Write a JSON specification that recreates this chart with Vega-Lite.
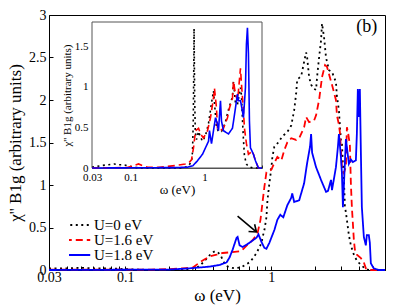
{
  "$schema": "https://vega.github.io/schema/vega-lite/v6.json",
  "width": 336,
  "height": 255,
  "padding": {"left": 49, "top": 15, "right": 14, "bottom": 38},
  "autosize": {"type": "none"},
  "background": "white",
  "config": {
    "view": {"stroke": "black", "strokeWidth": 1},
    "font": "Liberation Serif",
    "axis": {"grid": false, "domainColor": "black", "tickColor": "black", "labelColor": "black", "titleColor": "black", "labelFont": "Liberation Serif", "titleFont": "Liberation Serif", "titleFontWeight": "normal"},
    "legend": {"labelFont": "Liberation Serif", "labelColor": "black"}
  },
  "datasets": {
    "main": [
      {"series": "U=0 eV", "w": 0.03, "chi": 0.02},
      {"series": "U=0 eV", "w": 0.04, "chi": 0.02},
      {"series": "U=0 eV", "w": 0.05, "chi": 0.025},
      {"series": "U=0 eV", "w": 0.06, "chi": 0.02},
      {"series": "U=0 eV", "w": 0.07, "chi": 0.02},
      {"series": "U=0 eV", "w": 0.08, "chi": 0.015},
      {"series": "U=0 eV", "w": 0.09, "chi": 0.015},
      {"series": "U=0 eV", "w": 0.1, "chi": 0.01},
      {"series": "U=0 eV", "w": 0.12, "chi": 0.005},
      {"series": "U=0 eV", "w": 0.15, "chi": 0},
      {"series": "U=0 eV", "w": 0.25, "chi": 0},
      {"series": "U=0 eV", "w": 0.3, "chi": 0.02},
      {"series": "U=0 eV", "w": 0.324, "chi": 0.05},
      {"series": "U=0 eV", "w": 0.345, "chi": 0.1},
      {"series": "U=0 eV", "w": 0.367, "chi": 0.15},
      {"series": "U=0 eV", "w": 0.39, "chi": 0.2},
      {"series": "U=0 eV", "w": 0.41, "chi": 0.22},
      {"series": "U=0 eV", "w": 0.43, "chi": 0.21},
      {"series": "U=0 eV", "w": 0.45, "chi": 0.17},
      {"series": "U=0 eV", "w": 0.47, "chi": 0.1},
      {"series": "U=0 eV", "w": 0.49, "chi": 0.05},
      {"series": "U=0 eV", "w": 0.52, "chi": 0.03},
      {"series": "U=0 eV", "w": 0.56, "chi": 0.02},
      {"series": "U=0 eV", "w": 0.62, "chi": 0.03},
      {"series": "U=0 eV", "w": 0.708, "chi": 0.09},
      {"series": "U=0 eV", "w": 0.75, "chi": 0.14},
      {"series": "U=0 eV", "w": 0.791, "chi": 0.2},
      {"series": "U=0 eV", "w": 0.83, "chi": 0.27},
      {"series": "U=0 eV", "w": 0.855, "chi": 0.32},
      {"series": "U=0 eV", "w": 0.875, "chi": 0.4},
      {"series": "U=0 eV", "w": 0.896, "chi": 0.47},
      {"series": "U=0 eV", "w": 0.925, "chi": 0.62},
      {"series": "U=0 eV", "w": 0.94, "chi": 0.82},
      {"series": "U=0 eV", "w": 0.969, "chi": 1.02},
      {"series": "U=0 eV", "w": 1.0, "chi": 1.2},
      {"series": "U=0 eV", "w": 1.016, "chi": 1.33},
      {"series": "U=0 eV", "w": 1.048, "chi": 1.45},
      {"series": "U=0 eV", "w": 1.081, "chi": 1.47},
      {"series": "U=0 eV", "w": 1.133, "chi": 1.52},
      {"series": "U=0 eV", "w": 1.2, "chi": 1.58},
      {"series": "U=0 eV", "w": 1.265, "chi": 1.61},
      {"series": "U=0 eV", "w": 1.33, "chi": 1.66},
      {"series": "U=0 eV", "w": 1.368, "chi": 1.7},
      {"series": "U=0 eV", "w": 1.433, "chi": 1.88},
      {"series": "U=0 eV", "w": 1.479, "chi": 2.08},
      {"series": "U=0 eV", "w": 1.503, "chi": 2.24},
      {"series": "U=0 eV", "w": 1.55, "chi": 2.26},
      {"series": "U=0 eV", "w": 1.6, "chi": 2.28},
      {"series": "U=0 eV", "w": 1.676, "chi": 2.45},
      {"series": "U=0 eV", "w": 1.73, "chi": 2.56},
      {"series": "U=0 eV", "w": 1.758, "chi": 2.5},
      {"series": "U=0 eV", "w": 1.813, "chi": 2.27},
      {"series": "U=0 eV", "w": 1.871, "chi": 2.18},
      {"series": "U=0 eV", "w": 1.962, "chi": 2.13},
      {"series": "U=0 eV", "w": 2.023, "chi": 2.12},
      {"series": "U=0 eV", "w": 2.056, "chi": 2.27},
      {"series": "U=0 eV", "w": 2.122, "chi": 2.5},
      {"series": "U=0 eV", "w": 2.188, "chi": 2.7},
      {"series": "U=0 eV", "w": 2.223, "chi": 2.9},
      {"series": "U=0 eV", "w": 2.294, "chi": 2.74},
      {"series": "U=0 eV", "w": 2.367, "chi": 2.5},
      {"series": "U=0 eV", "w": 2.482, "chi": 2.35},
      {"series": "U=0 eV", "w": 2.601, "chi": 2.33},
      {"series": "U=0 eV", "w": 2.768, "chi": 2.21},
      {"series": "U=0 eV", "w": 2.812, "chi": 2.04},
      {"series": "U=0 eV", "w": 2.901, "chi": 1.88},
      {"series": "U=0 eV", "w": 2.95, "chi": 1.68},
      {"series": "U=0 eV", "w": 2.994, "chi": 1.53},
      {"series": "U=0 eV", "w": 3.04, "chi": 1.5},
      {"series": "U=0 eV", "w": 3.09, "chi": 1.24},
      {"series": "U=0 eV", "w": 3.139, "chi": 1.06},
      {"series": "U=0 eV", "w": 3.188, "chi": 0.76},
      {"series": "U=0 eV", "w": 3.29, "chi": 0.59},
      {"series": "U=0 eV", "w": 3.395, "chi": 0.41},
      {"series": "U=0 eV", "w": 3.503, "chi": 0.29},
      {"series": "U=0 eV", "w": 3.673, "chi": 0.18},
      {"series": "U=0 eV", "w": 3.85, "chi": 0.11},
      {"series": "U=0 eV", "w": 4.1, "chi": 0.06},
      {"series": "U=0 eV", "w": 4.366, "chi": 0.02},
      {"series": "U=0 eV", "w": 4.65, "chi": 0},
      {"series": "U=0 eV", "w": 6, "chi": 0},

      {"series": "U=1.6 eV", "w": 0.03, "chi": 0.005},
      {"series": "U=1.6 eV", "w": 0.1, "chi": 0.005},
      {"series": "U=1.6 eV", "w": 0.15, "chi": 0.005},
      {"series": "U=1.6 eV", "w": 0.2, "chi": 0.01},
      {"series": "U=1.6 eV", "w": 0.25, "chi": 0.02},
      {"series": "U=1.6 eV", "w": 0.29, "chi": 0.03},
      {"series": "U=1.6 eV", "w": 0.324, "chi": 0.09},
      {"series": "U=1.6 eV", "w": 0.345, "chi": 0.12},
      {"series": "U=1.6 eV", "w": 0.379, "chi": 0.16},
      {"series": "U=1.6 eV", "w": 0.422, "chi": 0.18},
      {"series": "U=1.6 eV", "w": 0.464, "chi": 0.2},
      {"series": "U=1.6 eV", "w": 0.535, "chi": 0.21},
      {"series": "U=1.6 eV", "w": 0.606, "chi": 0.22},
      {"series": "U=1.6 eV", "w": 0.635, "chi": 0.24},
      {"series": "U=1.6 eV", "w": 0.687, "chi": 0.3},
      {"series": "U=1.6 eV", "w": 0.743, "chi": 0.35},
      {"series": "U=1.6 eV", "w": 0.803, "chi": 0.43},
      {"series": "U=1.6 eV", "w": 0.842, "chi": 0.59},
      {"series": "U=1.6 eV", "w": 0.869, "chi": 0.79},
      {"series": "U=1.6 eV", "w": 0.896, "chi": 0.98},
      {"series": "U=1.6 eV", "w": 0.925, "chi": 1.15},
      {"series": "U=1.6 eV", "w": 1.0, "chi": 1.18},
      {"series": "U=1.6 eV", "w": 1.048, "chi": 1.26},
      {"series": "U=1.6 eV", "w": 1.099, "chi": 1.33},
      {"series": "U=1.6 eV", "w": 1.17, "chi": 1.29},
      {"series": "U=1.6 eV", "w": 1.226, "chi": 1.41},
      {"series": "U=1.6 eV", "w": 1.285, "chi": 1.5},
      {"series": "U=1.6 eV", "w": 1.368, "chi": 1.55},
      {"series": "U=1.6 eV", "w": 1.479, "chi": 1.53},
      {"series": "U=1.6 eV", "w": 1.55, "chi": 1.55},
      {"series": "U=1.6 eV", "w": 1.676, "chi": 1.68},
      {"series": "U=1.6 eV", "w": 1.73, "chi": 1.8},
      {"series": "U=1.6 eV", "w": 1.813, "chi": 1.74},
      {"series": "U=1.6 eV", "w": 1.962, "chi": 1.76},
      {"series": "U=1.6 eV", "w": 2.023, "chi": 1.82},
      {"series": "U=1.6 eV", "w": 2.122, "chi": 2.0},
      {"series": "U=1.6 eV", "w": 2.223, "chi": 2.27},
      {"series": "U=1.6 eV", "w": 2.33, "chi": 2.41},
      {"series": "U=1.6 eV", "w": 2.404, "chi": 2.39},
      {"series": "U=1.6 eV", "w": 2.56, "chi": 2.22},
      {"series": "U=1.6 eV", "w": 2.601, "chi": 2.18},
      {"series": "U=1.6 eV", "w": 2.768, "chi": 2.0},
      {"series": "U=1.6 eV", "w": 2.812, "chi": 1.82},
      {"series": "U=1.6 eV", "w": 2.901, "chi": 1.71},
      {"series": "U=1.6 eV", "w": 2.947, "chi": 1.62},
      {"series": "U=1.6 eV", "w": 3.041, "chi": 1.21},
      {"series": "U=1.6 eV", "w": 3.139, "chi": 1.14},
      {"series": "U=1.6 eV", "w": 3.239, "chi": 1.22},
      {"series": "U=1.6 eV", "w": 3.29, "chi": 1.68},
      {"series": "U=1.6 eV", "w": 3.35, "chi": 1.62},
      {"series": "U=1.6 eV", "w": 3.449, "chi": 1.47},
      {"series": "U=1.6 eV", "w": 3.503, "chi": 1.02},
      {"series": "U=1.6 eV", "w": 3.559, "chi": 0.74},
      {"series": "U=1.6 eV", "w": 3.615, "chi": 0.55},
      {"series": "U=1.6 eV", "w": 3.673, "chi": 0.35},
      {"series": "U=1.6 eV", "w": 3.731, "chi": 0.24},
      {"series": "U=1.6 eV", "w": 3.85, "chi": 0.18},
      {"series": "U=1.6 eV", "w": 4.1, "chi": 0.14},
      {"series": "U=1.6 eV", "w": 4.298, "chi": 0.09},
      {"series": "U=1.6 eV", "w": 4.436, "chi": 0.02},
      {"series": "U=1.6 eV", "w": 4.65, "chi": 0},
      {"series": "U=1.6 eV", "w": 6, "chi": 0},

      {"series": "U=1.8 eV", "w": 0.03, "chi": 0},
      {"series": "U=1.8 eV", "w": 0.2, "chi": 0.005},
      {"series": "U=1.8 eV", "w": 0.277, "chi": 0.02},
      {"series": "U=1.8 eV", "w": 0.379, "chi": 0.04},
      {"series": "U=1.8 eV", "w": 0.443, "chi": 0.06},
      {"series": "U=1.8 eV", "w": 0.494, "chi": 0.09},
      {"series": "U=1.8 eV", "w": 0.518, "chi": 0.15},
      {"series": "U=1.8 eV", "w": 0.543, "chi": 0.24},
      {"series": "U=1.8 eV", "w": 0.578, "chi": 0.38},
      {"series": "U=1.8 eV", "w": 0.587, "chi": 0.39},
      {"series": "U=1.8 eV", "w": 0.606, "chi": 0.29},
      {"series": "U=1.8 eV", "w": 0.635, "chi": 0.27},
      {"series": "U=1.8 eV", "w": 0.708, "chi": 0.32},
      {"series": "U=1.8 eV", "w": 0.791, "chi": 0.38},
      {"series": "U=1.8 eV", "w": 0.816, "chi": 0.42},
      {"series": "U=1.8 eV", "w": 0.855, "chi": 0.33},
      {"series": "U=1.8 eV", "w": 0.896, "chi": 0.26},
      {"series": "U=1.8 eV", "w": 0.925, "chi": 0.25},
      {"series": "U=1.8 eV", "w": 0.969, "chi": 0.32},
      {"series": "U=1.8 eV", "w": 1.048, "chi": 0.47},
      {"series": "U=1.8 eV", "w": 1.099, "chi": 0.59},
      {"series": "U=1.8 eV", "w": 1.151, "chi": 0.65},
      {"series": "U=1.8 eV", "w": 1.207, "chi": 0.62},
      {"series": "U=1.8 eV", "w": 1.285, "chi": 0.76},
      {"series": "U=1.8 eV", "w": 1.368, "chi": 0.85},
      {"series": "U=1.8 eV", "w": 1.39, "chi": 0.9},
      {"series": "U=1.8 eV", "w": 1.433, "chi": 0.8},
      {"series": "U=1.8 eV", "w": 1.55, "chi": 0.82},
      {"series": "U=1.8 eV", "w": 1.676, "chi": 1.02},
      {"series": "U=1.8 eV", "w": 1.758, "chi": 1.26},
      {"series": "U=1.8 eV", "w": 1.84, "chi": 1.45},
      {"series": "U=1.8 eV", "w": 1.871, "chi": 1.6},
      {"series": "U=1.8 eV", "w": 1.901, "chi": 1.38},
      {"series": "U=1.8 eV", "w": 2.023, "chi": 1.21},
      {"series": "U=1.8 eV", "w": 2.188, "chi": 1.06},
      {"series": "U=1.8 eV", "w": 2.367, "chi": 0.92},
      {"series": "U=1.8 eV", "w": 2.443, "chi": 0.93},
      {"series": "U=1.8 eV", "w": 2.56, "chi": 1.06},
      {"series": "U=1.8 eV", "w": 2.601, "chi": 0.94},
      {"series": "U=1.8 eV", "w": 2.768, "chi": 1.21},
      {"series": "U=1.8 eV", "w": 2.856, "chi": 1.45},
      {"series": "U=1.8 eV", "w": 2.901, "chi": 1.6},
      {"series": "U=1.8 eV", "w": 2.994, "chi": 1.33},
      {"series": "U=1.8 eV", "w": 3.041, "chi": 1.14},
      {"series": "U=1.8 eV", "w": 3.09, "chi": 0.74},
      {"series": "U=1.8 eV", "w": 3.139, "chi": 1.0},
      {"series": "U=1.8 eV", "w": 3.239, "chi": 1.54},
      {"series": "U=1.8 eV", "w": 3.395, "chi": 1.25},
      {"series": "U=1.8 eV", "w": 3.503, "chi": 1.3},
      {"series": "U=1.8 eV", "w": 3.615, "chi": 1.27},
      {"series": "U=1.8 eV", "w": 3.79, "chi": 1.29},
      {"series": "U=1.8 eV", "w": 3.85, "chi": 1.6},
      {"series": "U=1.8 eV", "w": 3.911, "chi": 2.13},
      {"series": "U=1.8 eV", "w": 3.97, "chi": 1.8},
      {"series": "U=1.8 eV", "w": 4.036, "chi": 2.13},
      {"series": "U=1.8 eV", "w": 4.1, "chi": 1.4},
      {"series": "U=1.8 eV", "w": 4.165, "chi": 0.74},
      {"series": "U=1.8 eV", "w": 4.298, "chi": 0.39},
      {"series": "U=1.8 eV", "w": 4.436, "chi": 0.29},
      {"series": "U=1.8 eV", "w": 4.506, "chi": 0.41},
      {"series": "U=1.8 eV", "w": 4.65, "chi": 0.41},
      {"series": "U=1.8 eV", "w": 4.724, "chi": 0.32},
      {"series": "U=1.8 eV", "w": 4.799, "chi": 0.08},
      {"series": "U=1.8 eV", "w": 5.02, "chi": 0.02},
      {"series": "U=1.8 eV", "w": 5.43, "chi": 0},
      {"series": "U=1.8 eV", "w": 6, "chi": 0}
    ],
    "inset": [
      {"series": "U=0 eV", "w": 0.03, "chi": 0.01},
      {"series": "U=0 eV", "w": 0.035, "chi": 0.02},
      {"series": "U=0 eV", "w": 0.04, "chi": 0.03},
      {"series": "U=0 eV", "w": 0.05, "chi": 0.04},
      {"series": "U=0 eV", "w": 0.06, "chi": 0.05},
      {"series": "U=0 eV", "w": 0.07, "chi": 0.04},
      {"series": "U=0 eV", "w": 0.08, "chi": 0.04},
      {"series": "U=0 eV", "w": 0.09, "chi": 0.03},
      {"series": "U=0 eV", "w": 0.1, "chi": 0.02},
      {"series": "U=0 eV", "w": 0.12, "chi": 0.005},
      {"series": "U=0 eV", "w": 0.15, "chi": 0},
      {"series": "U=0 eV", "w": 0.5, "chi": 0},
      {"series": "U=0 eV", "w": 0.6, "chi": 0.02},
      {"series": "U=0 eV", "w": 0.667, "chi": 0.08},
      {"series": "U=0 eV", "w": 0.688, "chi": 0.2},
      {"series": "U=0 eV", "w": 0.705, "chi": 0.6},
      {"series": "U=0 eV", "w": 0.715, "chi": 1.2},
      {"series": "U=0 eV", "w": 0.722, "chi": 1.72},
      {"series": "U=0 eV", "w": 0.735, "chi": 0.9},
      {"series": "U=0 eV", "w": 0.75, "chi": 0.45},
      {"series": "U=0 eV", "w": 0.78, "chi": 0.35},
      {"series": "U=0 eV", "w": 0.83, "chi": 0.45},
      {"series": "U=0 eV", "w": 0.883, "chi": 0.38},
      {"series": "U=0 eV", "w": 0.94, "chi": 0.33},
      {"series": "U=0 eV", "w": 1.032, "chi": 0.4},
      {"series": "U=0 eV", "w": 1.133, "chi": 0.55},
      {"series": "U=0 eV", "w": 1.243, "chi": 0.8},
      {"series": "U=0 eV", "w": 1.323, "chi": 0.95},
      {"series": "U=0 eV", "w": 1.365, "chi": 0.8},
      {"series": "U=0 eV", "w": 1.453, "chi": 0.5},
      {"series": "U=0 eV", "w": 1.546, "chi": 0.45},
      {"series": "U=0 eV", "w": 1.697, "chi": 0.45},
      {"series": "U=0 eV", "w": 1.9, "chi": 0.55},
      {"series": "U=0 eV", "w": 2.11, "chi": 0.72},
      {"series": "U=0 eV", "w": 2.39, "chi": 0.88},
      {"series": "U=0 eV", "w": 2.466, "chi": 1.07},
      {"series": "U=0 eV", "w": 2.624, "chi": 0.8},
      {"series": "U=0 eV", "w": 2.793, "chi": 0.78},
      {"series": "U=0 eV", "w": 3.066, "chi": 0.99},
      {"series": "U=0 eV", "w": 3.163, "chi": 0.9},
      {"series": "U=0 eV", "w": 3.263, "chi": 0.6},
      {"series": "U=0 eV", "w": 3.366, "chi": 0.35},
      {"series": "U=0 eV", "w": 3.472, "chi": 0.15},
      {"series": "U=0 eV", "w": 3.695, "chi": 0.05},
      {"series": "U=0 eV", "w": 3.932, "chi": 0.02},
      {"series": "U=0 eV", "w": 4.5, "chi": 0},
      {"series": "U=0 eV", "w": 6, "chi": 0},

      {"series": "U=1.6 eV", "w": 0.03, "chi": 0},
      {"series": "U=1.6 eV", "w": 0.09, "chi": 0.005},
      {"series": "U=1.6 eV", "w": 0.11, "chi": 0.03},
      {"series": "U=1.6 eV", "w": 0.128, "chi": 0.05},
      {"series": "U=1.6 eV", "w": 0.145, "chi": 0.03},
      {"series": "U=1.6 eV", "w": 0.17, "chi": 0.01},
      {"series": "U=1.6 eV", "w": 0.25, "chi": 0.01},
      {"series": "U=1.6 eV", "w": 0.316, "chi": 0.02},
      {"series": "U=1.6 eV", "w": 0.4, "chi": 0.03},
      {"series": "U=1.6 eV", "w": 0.474, "chi": 0.04},
      {"series": "U=1.6 eV", "w": 0.55, "chi": 0.05},
      {"series": "U=1.6 eV", "w": 0.608, "chi": 0.06},
      {"series": "U=1.6 eV", "w": 0.667, "chi": 0.1},
      {"series": "U=1.6 eV", "w": 0.71, "chi": 0.25},
      {"series": "U=1.6 eV", "w": 0.756, "chi": 0.46},
      {"series": "U=1.6 eV", "w": 0.83, "chi": 0.49},
      {"series": "U=1.6 eV", "w": 0.883, "chi": 0.42},
      {"series": "U=1.6 eV", "w": 0.969, "chi": 0.37},
      {"series": "U=1.6 eV", "w": 1.098, "chi": 0.46},
      {"series": "U=1.6 eV", "w": 1.205, "chi": 0.62},
      {"series": "U=1.6 eV", "w": 1.323, "chi": 0.86},
      {"series": "U=1.6 eV", "w": 1.365, "chi": 0.98},
      {"series": "U=1.6 eV", "w": 1.453, "chi": 0.74},
      {"series": "U=1.6 eV", "w": 1.498, "chi": 0.49},
      {"series": "U=1.6 eV", "w": 1.645, "chi": 0.46},
      {"series": "U=1.6 eV", "w": 1.806, "chi": 0.49},
      {"series": "U=1.6 eV", "w": 2.046, "chi": 0.62},
      {"series": "U=1.6 eV", "w": 2.177, "chi": 0.74},
      {"series": "U=1.6 eV", "w": 2.39, "chi": 0.86},
      {"series": "U=1.6 eV", "w": 2.466, "chi": 1.07},
      {"series": "U=1.6 eV", "w": 2.624, "chi": 0.91},
      {"series": "U=1.6 eV", "w": 2.793, "chi": 0.83},
      {"series": "U=1.6 eV", "w": 2.881, "chi": 0.95},
      {"series": "U=1.6 eV", "w": 3.066, "chi": 1.23},
      {"series": "U=1.6 eV", "w": 3.163, "chi": 1.04},
      {"series": "U=1.6 eV", "w": 3.366, "chi": 0.7},
      {"series": "U=1.6 eV", "w": 3.472, "chi": 0.49},
      {"series": "U=1.6 eV", "w": 3.695, "chi": 0.3},
      {"series": "U=1.6 eV", "w": 3.932, "chi": 0.17},
      {"series": "U=1.6 eV", "w": 4.45, "chi": 0.21},
      {"series": "U=1.6 eV", "w": 4.89, "chi": 0.09},
      {"series": "U=1.6 eV", "w": 5.37, "chi": 0},
      {"series": "U=1.6 eV", "w": 6, "chi": 0},

      {"series": "U=1.8 eV", "w": 0.03, "chi": 0},
      {"series": "U=1.8 eV", "w": 0.4, "chi": 0.005},
      {"series": "U=1.8 eV", "w": 0.589, "chi": 0.01},
      {"series": "U=1.8 eV", "w": 0.7, "chi": 0.03},
      {"series": "U=1.8 eV", "w": 0.804, "chi": 0.09},
      {"series": "U=1.8 eV", "w": 0.94, "chi": 0.17},
      {"series": "U=1.8 eV", "w": 1.032, "chi": 0.25},
      {"series": "U=1.8 eV", "w": 1.133, "chi": 0.33},
      {"series": "U=1.8 eV", "w": 1.168, "chi": 0.46},
      {"series": "U=1.8 eV", "w": 1.243, "chi": 0.3},
      {"series": "U=1.8 eV", "w": 1.323, "chi": 0.46},
      {"series": "U=1.8 eV", "w": 1.408, "chi": 0.62},
      {"series": "U=1.8 eV", "w": 1.498, "chi": 0.54},
      {"series": "U=1.8 eV", "w": 1.546, "chi": 0.46},
      {"series": "U=1.8 eV", "w": 1.645, "chi": 0.83},
      {"series": "U=1.8 eV", "w": 1.697, "chi": 0.58},
      {"series": "U=1.8 eV", "w": 1.806, "chi": 0.46},
      {"series": "U=1.8 eV", "w": 2.11, "chi": 0.42},
      {"series": "U=1.8 eV", "w": 2.39, "chi": 0.49},
      {"series": "U=1.8 eV", "w": 2.624, "chi": 0.74},
      {"series": "U=1.8 eV", "w": 2.793, "chi": 0.91},
      {"series": "U=1.8 eV", "w": 2.881, "chi": 0.83},
      {"series": "U=1.8 eV", "w": 3.066, "chi": 0.83},
      {"series": "U=1.8 eV", "w": 3.263, "chi": 0.7},
      {"series": "U=1.8 eV", "w": 3.366, "chi": 0.62},
      {"series": "U=1.8 eV", "w": 3.582, "chi": 0.99},
      {"series": "U=1.8 eV", "w": 3.695, "chi": 1.53},
      {"series": "U=1.8 eV", "w": 3.811, "chi": 1.73},
      {"series": "U=1.8 eV", "w": 3.932, "chi": 1.41},
      {"series": "U=1.8 eV", "w": 4.056, "chi": 0.58},
      {"series": "U=1.8 eV", "w": 4.184, "chi": 0.25},
      {"series": "U=1.8 eV", "w": 4.59, "chi": 0.17},
      {"series": "U=1.8 eV", "w": 4.89, "chi": 0.09},
      {"series": "U=1.8 eV", "w": 5.37, "chi": 0},
      {"series": "U=1.8 eV", "w": 6, "chi": 0}
    ]
  },
  "resolve": {"scale": {"x": "independent", "y": "independent"}, "axis": {"x": "independent", "y": "independent"}},
  "layer": [
    {
      "layer": [
        {
          "data": {"name": "main"},
          "mark": {"type": "line", "strokeWidth": 1.8},
          "encoding": {
            "x": {"field": "w", "type": "quantitative",
              "scale": {"type": "log", "domain": [0.03, 6], "nice": false},
              "axis": {"orient": "bottom", "title": "ω (eV)", "titleFontSize": 17, "titlePadding": 3,
                "values": [0.03,0.04,0.05,0.06,0.07,0.08,0.09,0.1,0.2,0.3,0.4,0.5,0.6,0.7,0.8,0.9,1,2,3,4,5,6],
                "labelExpr": "(datum.value == 0.03 || datum.value == 0.1 || datum.value == 1) ? format(datum.value, '~g') : ''",
                "labelFlush": false, "labelFontSize": 14, "tickSize": -4, "labelPadding": 4}},
            "y": {"field": "chi", "type": "quantitative",
              "scale": {"domain": [0, 3], "nice": false},
              "axis": {"orient": "left", "title": "χ''  B1g  (arbitrary units)", "titleFontSize": 17, "titlePadding": 4,
                "values": [0, 0.5, 1, 1.5, 2, 2.5, 3], "format": "~g", "labelFontSize": 14, "tickSize": -4, "labelPadding": 7}},
            "color": {"field": "series", "type": "nominal",
              "scale": {"domain": ["U=0 eV", "U=1.6 eV", "U=1.8 eV"], "range": ["#000000", "#ff0000", "#0000ff"]},
              "legend": {"orient": "none", "legendX": 20, "legendY": 204, "padding": 0, "title": null, "symbolType": "M -1.8 0 L 1.8 0", "symbolSize": 200, "symbolStrokeWidth": 2, "labelFontSize": 15, "labelOffset": 8, "rowPadding": 0, "clipHeight": 12}},
            "strokeDash": {"field": "series", "type": "nominal",
              "scale": {"domain": ["U=0 eV", "U=1.6 eV", "U=1.8 eV"], "range": [[2, 3.5], [7, 4], [1, 0]]},
              "legend": {"orient": "none", "legendX": 20, "legendY": 204, "padding": 0, "title": null, "symbolType": "M -1.8 0 L 1.8 0", "symbolSize": 200, "symbolStrokeWidth": 2, "labelFontSize": 15, "labelOffset": 8, "rowPadding": 0, "clipHeight": 12}}
          }
        },
        {
          "data": {"values": [{"a": 1}]},
          "mark": {"type": "rule", "strokeWidth": 1.6, "color": "black"},
          "encoding": {"x": {"datum": 0.587}, "y": {"datum": 0.635}, "x2": {"datum": 0.785}, "y2": {"datum": 0.452}}
        },
        {
          "data": {"values": [{"a": 1}]},
          "mark": {"type": "point", "shape": "M -1 -0.75 L 0 0 L -1 0.75", "filled": false, "strokeWidth": 1.6, "color": "black", "size": 160, "angle": 40, "opacity": 1},
          "encoding": {"x": {"datum": 0.79}, "y": {"datum": 0.447}}
        },
        {
          "data": {"values": [{"a": 1}]},
          "mark": {"type": "text", "font": "Liberation Serif", "fontSize": 18, "color": "black"},
          "encoding": {"x": {"datum": 4.5}, "y": {"datum": 2.86}, "text": {"value": "(b)"}}
        }
      ]
    },
    {
      "layer": [
        {
          "data": {"values": [{"a": 1}]},
          "mark": {"type": "rect", "fill": "white", "stroke": "#555555", "strokeWidth": 1},
          "encoding": {
            "x": {"datum": 0.03, "type": "quantitative",
              "scale": {"type": "log", "domain": [0.03, 6], "nice": false, "range": [43, 213]},
              "axis": {"orient": "bottom", "offset": -102, "title": "ω (eV)", "titleFontSize": 13, "titlePadding": 1,
                "values": [0.03,0.04,0.05,0.06,0.07,0.08,0.09,0.1,0.2,0.3,0.4,0.5,0.6,0.7,0.8,0.9,1,2,3,4,5,6],
                "labelExpr": "(datum.value == 0.03 || datum.value == 0.1 || datum.value == 1) ? format(datum.value, '~g') : ''",
                "labelFlush": false, "labelFontSize": 11, "tickSize": -3, "labelPadding": 6, "domainColor": "#555555"}},
            "x2": {"datum": 6},
            "y": {"datum": 0, "type": "quantitative",
              "scale": {"domain": [0, 1.8], "nice": false, "range": [153, 7]},
              "axis": {"orient": "left", "offset": -43, "title": "χ''  B1g  (arbitrary units)", "titleFontSize": 11, "titlePadding": 2,
                "values": [0, 0.5, 1, 1.5], "format": "~g", "labelFontSize": 11, "tickSize": -3, "labelPadding": 7, "domainColor": "#555555"}},
            "y2": {"datum": 1.8}
          }
        },
        {
          "data": {"name": "inset"},
          "mark": {"type": "line", "strokeWidth": 1.6},
          "encoding": {
            "x": {"field": "w", "type": "quantitative"},
            "y": {"field": "chi", "type": "quantitative"},
            "color": {"field": "series", "type": "nominal"},
            "strokeDash": {"field": "series", "type": "nominal"}
          }
        }
      ]
    }
  ]
}
